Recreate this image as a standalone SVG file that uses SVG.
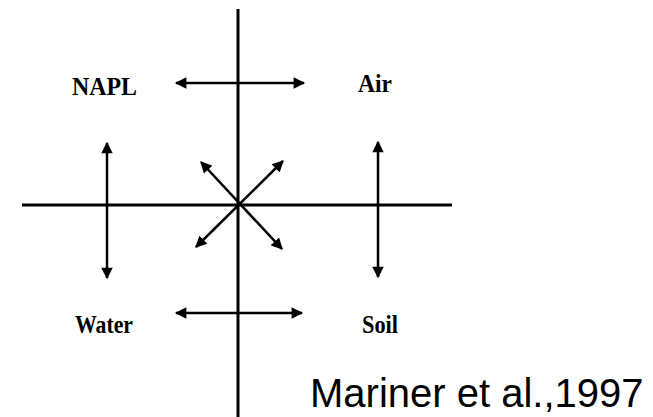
<svg xmlns="http://www.w3.org/2000/svg" width="653" height="417" viewBox="0 0 653 417">
<style>
.ax{stroke:#000;stroke-width:3;fill:none}
.ar{stroke:#000;stroke-width:2.5;fill:none;marker-start:url(#ah);marker-end:url(#ah)}
.lb{font-family:"Liberation Serif","Times New Roman",serif;font-weight:bold;font-size:26px;fill:#000}
.ct{font-family:"Liberation Sans",Arial,sans-serif;font-size:40px;fill:#000}
</style>
<defs>
<marker id="ah" viewBox="0 0 10 10" refX="9" refY="5" markerWidth="5" markerHeight="4.6" orient="auto-start-reverse" markerUnits="strokeWidth">
<path d="M0,0 L10,5 L0,10 Z" fill="#000"/>
</marker>
</defs>
<rect width="653" height="417" fill="#fff"/>
<g id="axes">
<line class="ax" x1="238" y1="9" x2="238" y2="417"/>
<line class="ax" x1="22" y1="205" x2="452" y2="205"/>
</g>
<g id="connectors">
<line class="ar" x1="176" y1="83" x2="304" y2="83"/>
<line class="ar" x1="176" y1="313" x2="302" y2="313"/>
<line class="ar" x1="107" y1="143" x2="107" y2="278"/>
<line class="ar" x1="378" y1="142" x2="378" y2="277"/>
<line class="ar" x1="201" y1="162" x2="282" y2="249"/>
<line class="ar" x1="283" y1="161" x2="196" y2="247"/>
</g>
<g id="napl"><text class="lb" x="72" y="95" textLength="65" lengthAdjust="spacingAndGlyphs">NAPL</text></g>
<g id="air"><text class="lb" x="358" y="92" textLength="34" lengthAdjust="spacingAndGlyphs">Air</text></g>
<g id="water"><text class="lb" x="75" y="333" textLength="58" lengthAdjust="spacingAndGlyphs">Water</text></g>
<g id="soil"><text class="lb" x="362" y="333" textLength="36" lengthAdjust="spacingAndGlyphs">Soil</text></g>
<g id="citation"><text class="ct" x="310" y="407">Mariner et al.,1997</text></g>
</svg>
